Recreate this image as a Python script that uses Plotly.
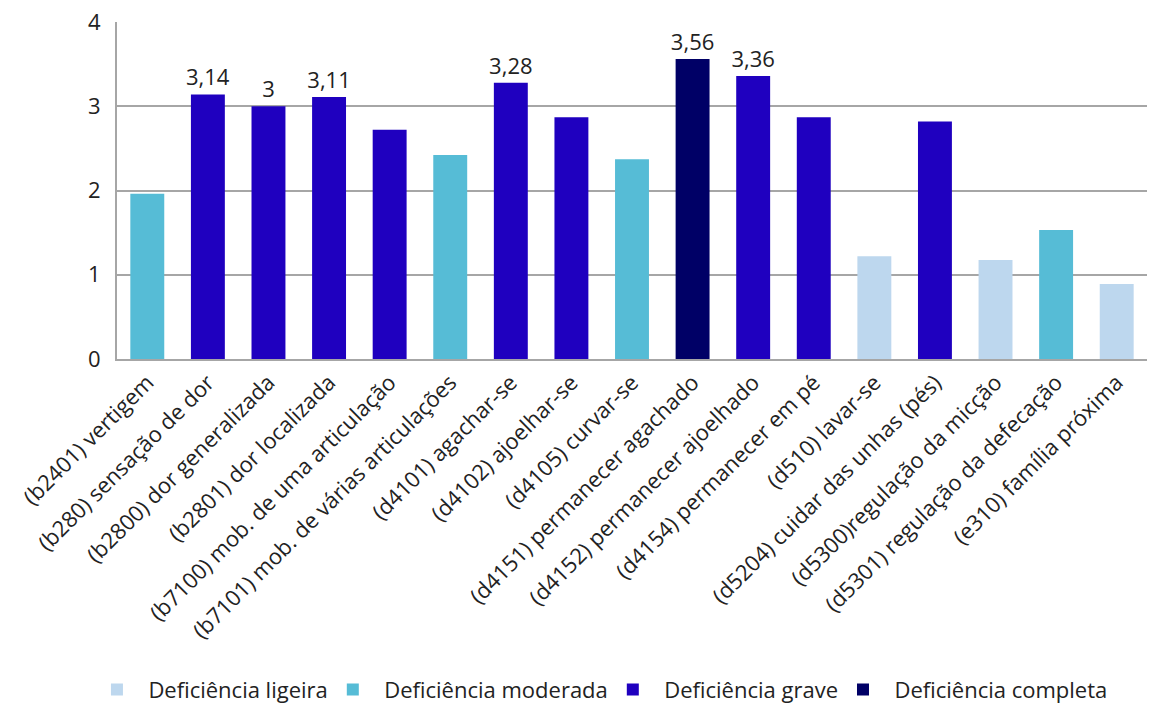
import plotly.graph_objects as go

categories = [
    "(b2401) vertigem", "(b280) sensação de dor", "(b2800) dor generalizada",
    "(b2801) dor localizada", "(b7100) mob. de uma articulação",
    "(b7101) mob. de várias articulações", "(d4101) agachar-se",
    "(d4102) ajoelhar-se", "(d4105) curvar-se", "(d4151) permanecer agachado",
    "(d4152) permanecer ajoelhado", "(d4154) permanecer em pé", "(d510) lavar-se",
    "(d5204) cuidar das unhas (pés)", "(d5300)regulação da micção",
    "(d5301) regulação da defecação", "(e310) família próxima",
]
values = [1.96, 3.14, 3.0, 3.11, 2.72, 2.42, 3.28, 2.87, 2.37, 3.56, 3.36, 2.87,
          1.22, 2.82, 1.175, 1.53, 0.89]
levels = ["moderada", "grave", "grave", "grave", "grave", "moderada", "grave",
          "grave", "moderada", "completa", "grave", "grave", "ligeira", "grave",
          "ligeira", "moderada", "ligeira"]
labels = ["", "3,14", "3", "3,11", "", "", "3,28", "", "", "3,56", "3,36", "",
          "", "", "", "", ""]

level_names = {
    "ligeira": "Deficiência ligeira",
    "moderada": "Deficiência moderada",
    "grave": "Deficiência grave",
    "completa": "Deficiência completa",
}
level_colors = {
    "ligeira": "#BDD7EE",
    "moderada": "#56BCD6",
    "grave": "#1F00BF",
    "completa": "#000066",
}

pad = "\u00a0\u00a0"

fig = go.Figure()
for lv in ["ligeira", "moderada", "grave", "completa"]:
    xs = [c for c, l in zip(categories, levels) if l == lv]
    ys = [v for v, l in zip(values, levels) if l == lv]
    ts = [t for t, l in zip(labels, levels) if l == lv]
    fig.add_trace(go.Bar(
        x=xs, y=ys, name=pad + level_names[lv], text=ts, textposition="outside",
        constraintext="none",
        textfont=dict(size=22, color="#222222"), cliponaxis=False,
        marker=dict(color=level_colors[lv], line=dict(width=0)),
    ))

fig.update_layout(
    barmode="relative", bargap=0.44,
    width=1149, height=720,
    margin=dict(l=117, r=2, t=22, b=361),
    paper_bgcolor="white", plot_bgcolor="white",
    font=dict(family="Open Sans, sans-serif", size=22, color="#222222"),
    showlegend=True,
    legend=dict(orientation="h", xref="container", yref="container",
                x=0.5265, xanchor="center", y=0.042, yanchor="middle",
                font=dict(size=22), traceorder="normal", itemwidth=30),
    xaxis=dict(categoryorder="array", categoryarray=categories, tickangle=-45,
               showline=True, linecolor="#A6A6A6", linewidth=2, ticks="",
               tickfont=dict(size=22)),
    yaxis=dict(range=[0, 4], dtick=1, showgrid=True, gridcolor="#A6A6A6", gridwidth=2,
               showline=True, linecolor="#A6A6A6", linewidth=2, zeroline=False,
               ticks="", tickfont=dict(size=22), ticklabelstandoff=10),
)

fig.write_html("out.html")
